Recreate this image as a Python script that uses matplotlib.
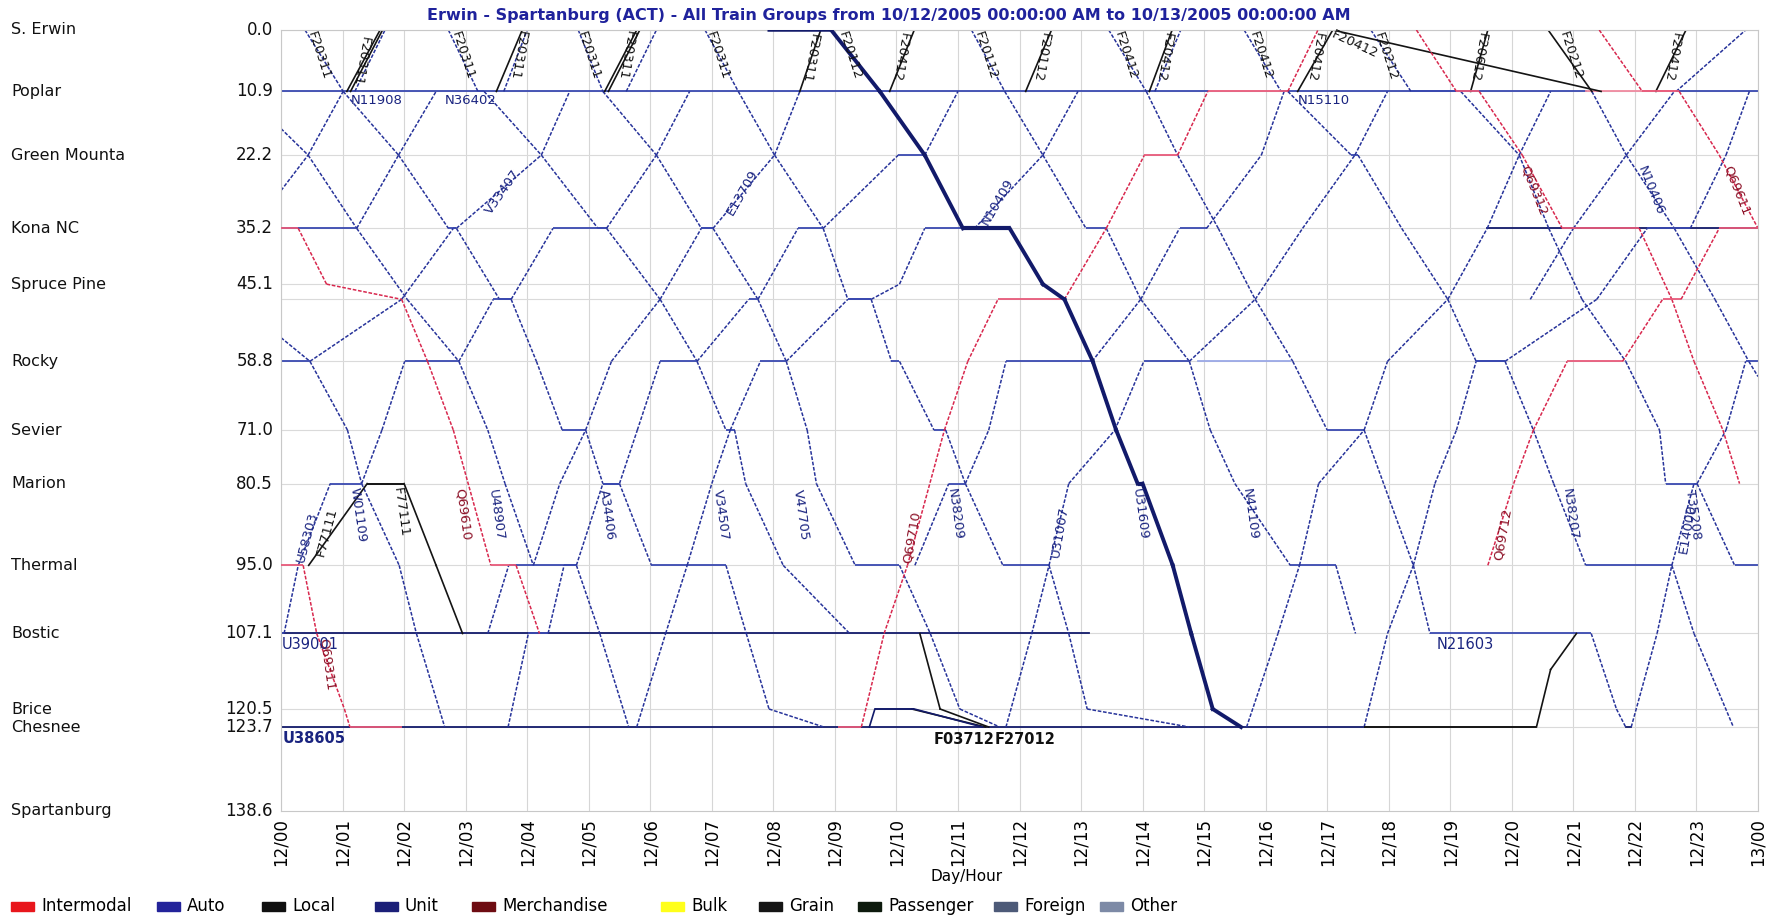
import matplotlib
matplotlib.use("Agg")
import matplotlib.pyplot as plt
from matplotlib.transforms import blended_transform_factory
from matplotlib.patches import Rectangle

# ---- stations / axes data ----
STATIONS = ["S. Erwin", "Poplar", "Green Mounta", "Kona NC", "Spruce Pine", "Rocky", "Sevier",
            "Marion", "Thermal", "Bostic", "Brice", "Chesnee", "Spartanburg"]
MILEPOSTS = [0.0, 10.9, 22.2, 35.2, 45.1, 58.8, 71.0, 80.5, 95.0, 107.1, 120.5, 123.7, 138.6]
CODES = ["SE", "PO", "GM", "KO", "SP", "RO", "SV", "MA", "TH", "BO", "BR", "CH", "SB"]
SIDING_MP = 47.8
HOUR_LABELS = ["12/%02d" % h for h in range(24)] + ["13/00"]

MP = dict(zip(CODES, MILEPOSTS))
MP["SD"] = SIDING_MP

# ---- train paths: (hour, station code or milepost) ----
# southbound auto/unit trains
S0 = [(0, 54.6), (0.47, "RO"), (1.08, "SV"), (1.31, "MA"), (1.92, "TH"), (2.2, "BO"), (2.66, "CH")]
S1 = [(0, 17.5), (0.44, "GM"), (1.23, "KO"), (2.05, "SD"), (2.89, "RO"), (3.36, "SV"), (3.64, "MA"),
      (4.1, "TH"), (4.8, "TH"), (5.18, "BO"), (5.65, "CH")]
S2 = [(0.39, "SE"), (1.01, "PO"), (1.91, "GM"), (2.72, "KO"), (2.85, "KO"), (3.55, "SD"), (3.74, "SD"),
      (4.15, "RO"), (4.57, "SV"), (4.95, "SV"), (5.23, "MA"), (5.5, "MA"), (6.02, "TH"), (7.23, "TH"),
      (7.56, "BO"), (7.93, "BR"), (8.82, "CH")]
S3 = [(1.2, "PO"), (1.69, "SE"), (2.72, "SE"), (3.2, "PO"), (3.3, "PO"), (4.23, "GM"), (5.15, "KO"),
      (5.29, "KO"), (6.16, "SD"), (6.76, "RO"), (7.23, "SV"), (7.37, "SV"), (7.55, "MA"), (8.16, "TH"),
      (9.24, "BO")]
S4 = [(4.83, "SE"), (5.23, "PO"), (6.1, "GM"), (6.83, "KO"), (7.02, "KO"), (7.75, "SD"), (8.21, "RO"),
      (8.55, "SV"), (8.7, "MA"), (9.33, "TH"), (10.05, "TH"), (10.55, "BO"), (11.03, "BR"), (11.68, "CH")]
S5 = [(6.89, "SE"), (7.43, "PO"), (8.02, "GM"), (8.81, "KO"), (9.21, "SD"), (9.59, "SD"), (9.92, "RO"),
      (10.05, "RO"), (10.61, "SV"), (10.8, "SV"), (11.12, "MA"), (11.73, "TH"), (12.48, "TH"),
      (12.8, "BO"), (13.1, "BR"), (14.76, "CH")]
S7 = [(11.22, "SE"), (11.76, "PO"), (12.38, "GM"), (13.08, "KO"), (13.41, "KO"), (13.97, "SD"),
      (14.76, "RO"), (15.1, "SV"), (15.5, "MA"), (16.4, "TH"), (17.14, "TH"), (17.46, "BO")]
S8 = [(13.45, "SE"), (14.06, "PO"), (14.57, "GM"), (15.23, "KO"), (15.83, "SD"), (16.44, "RO"),
      (17.0, "SV"), (17.6, "SV"), (18.4, "TH"), (18.67, "BO"), (21.29, "BO"), (21.7, "BR"), (21.85, "CH")]
S9 = [(15.65, "SE"), (16.25, "PO"), (16.36, "PO"), (17.39, "GM"), (17.5, "GM"), (18.21, "KO"),
      (18.96, "SD"), (19.42, "RO"), (19.89, "RO"), (20.35, "SV"), (20.68, "MA"), (21.2, "TH"),
      (22.6, "TH"), (22.96, "BO"), (23.6, "CH")]
S10 = [(17.71, "SE"), (18.36, "PO"), (19.17, "PO"), (20.12, "GM"), (20.6, "KO"), (21.14, "SD"),
       (21.85, "RO"), (22.4, "SV"), (22.5, "MA"), (23.01, "MA"), (23.62, "TH"), (24.0, "TH")]
S11 = [(21.3, "PO"), (21.86, "GM"), (22.64, "KO"), (23.3, "SD"), (23.85, "RO"), (24.0, 61.5)]

# northbound auto/unit trains
N0 = [(0, 28.5), (0.44, "GM"), (1.01, "PO")]
N1 = [(0, "KO"), (1.23, "KO"), (1.91, "GM"), (2.52, "PO")]
N2 = [(0, "RO"), (0.47, "RO"), (1.96, "SD"), (2.8, "KO"), (2.85, "KO"), (4.23, "GM"), (4.69, "PO")]
N3 = [(0, "BO"), (0.05, "BO"), (0.28, "TH"), (0.8, "MA"), (1.31, "MA"), (1.64, "SV"), (2.01, "RO"),
      (2.89, "RO"), (3.45, "SD"), (3.74, "SD"), (4.42, "KO"), (5.29, "KO"), (6.1, "GM"), (6.64, "PO")]
N4 = [(3.36, "BO"), (3.7, "TH"), (4.1, "TH"), (4.53, "MA"), (4.95, "SV"), (5.37, "RO"), (6.16, "SD"),
      (6.83, "KO"), (7.02, "KO"), (8.02, "GM"), (8.43, "PO")]
N5 = [(3.69, "CH"), (4.02, "BO"), (4.34, "BO"), (4.6, "TH"), (4.8, "TH"), (5.23, "MA"), (5.5, "MA"),
      (5.79, "SV"), (6.16, "RO"), (6.76, "RO"), (7.6, "SD"), (7.75, "SD"), (8.4, "KO"), (8.81, "KO"),
      (10.03, "GM"), (10.46, "GM"), (11.0, "PO")]
N6 = [(5.78, "CH"), (6.25, "BO"), (6.6, "TH"), (7.0, "MA"), (7.3, "SV"), (7.79, "RO"), (8.21, "RO"),
      (9.21, "SD"), (9.59, "SD"), (10.05, "SP"), (10.46, "KO"), (11.27, "KO"), (12.38, "GM"), (12.95, "PO")]
N8 = [(11.78, "CH"), (12.2, "BO"), (12.48, "TH"), (12.8, "MA"), (13.55, "SV"), (14.02, "RO"),
      (14.76, "RO"), (15.83, "SD"), (16.6, "KO"), (17.45, "GM"), (17.98, "PO")]
N9 = [(10.3, "TH"), (10.85, "MA"), (11.12, "MA"), (11.5, "SV"), (11.78, "RO"), (13.18, "RO"),
      (13.97, "SD"), (14.6, "KO"), (15.04, "KO"), (15.93, "GM"), (16.3, "PO")]
N10 = [(15.69, "CH"), (16.2, "BO"), (16.55, "TH"), (16.86, "MA"), (17.6, "SV"), (17.98, "RO"),
       (18.96, "SD"), (19.6, "KO"), (20.12, "GM"), (20.63, "PO")]
N11 = [(17.6, "CH"), (17.98, "BO"), (18.4, "TH"), (18.75, "MA"), (19.1, "SV"), (19.42, "RO"),
       (19.89, "RO"), (21.38, "SD"), (22.2, "KO"), (22.9, "KO"), (23.48, "GM"), (23.86, "PO")]
N13 = [(21.94, "CH"), (22.36, "BO"), (22.6, "TH"), (22.96, "MA"), (23.01, "MA"), (23.48, "SV"),
       (23.8, "RO"), (24.0, "RO")]
N14 = [(20.3, "SD"), (21.0, "KO"), (21.86, "GM"), (22.64, "PO")]

# short S. Erwin - Poplar moves (blue)
TOP_BLUE = [
    [(3.62, "PO"), (4.0, "SE")],
    [(5.61, "PO"), (6.1, "SE")],
    [(14.2, "PO"), (14.62, "SE")],
    [(22.67, "PO"), (23.8, "SE")],
]
# locals (black)
LOCALS = [
    [(1.07, "PO"), (1.61, "SE")],
    [(1.13, "PO"), (1.65, "SE")],
    [(3.5, "PO"), (3.92, "SE"), (4.83, "SE")],
    [(5.26, "PO"), (5.78, "SE"), (6.89, "SE")],
    [(5.32, "PO"), (5.83, "SE")],
    [(8.43, "PO"), (8.77, "SE")],
    [(9.89, "PO"), (10.29, "SE"), (11.22, "SE")],
    [(12.1, "PO"), (12.52, "SE")],
    [(14.11, "PO"), (14.48, "SE"), (15.65, "SE")],
    [(16.52, "PO"), (17.09, "SE"), (21.45, "PO")],
    [(19.33, "PO"), (19.61, "SE"), (20.59, "SE"), (21.3, "PO")],
    [(22.34, "PO"), (22.83, "SE")],
    [(0.45, "TH"), (1.4, "MA"), (2.0, "MA"), (2.52, "TH"), (2.95, "BO")],
    [(10.38, "BO"), (10.71, "BR"), (11.5, "CH")],
    [(10.25, "BR"), (11.45, "CH")],
    [(17.6, "CH"), (20.4, "CH"), (20.63, 113.5), (21.05, "BO")],
]
# merchandise / intermodal (red)
Q69610 = [(0, "KO"), (0.28, "KO"), (0.74, "SP"), (1.96, "SD"), (2.38, "RO"), (2.8, "SV"), (3.41, "TH"),
          (3.82, "TH"), (4.2, "BO")]
Q69311 = [(0, "TH"), (0.36, "TH"), (0.58, "BO"), (1.03, "BR"), (1.12, "CH"), (1.96, "CH")]
Q69710 = [(9.05, "CH"), (9.43, "CH"), (9.8, "BO"), (10.18, "TH"), (10.78, "SV"), (11.16, "RO"),
          (11.65, "SD"), (12.73, "SD"), (13.41, "KO"), (14.03, "GM"), (14.57, "GM"), (15.06, "PO"),
          (16.36, "PO"), (16.85, "SE")]
Q69312 = [(18.45, "SE"), (19.1, "PO"), (19.47, "PO"), (20.17, "GM"), (20.82, "KO"), (22.07, "KO"),
          (22.6, "SD"), (22.96, "RO"), (23.43, "SV"), (23.7, "MA")]
Q69611 = [(21.42, "SE"), (22.12, "PO"), (22.72, "PO"), (23.37, "GM"), (24.0, "KO")]
Q69712 = [(19.61, "TH"), (20.03, "MA"), (20.35, "SV"), (20.9, "RO"), (21.8, "RO"), (22.45, "SD"),
          (22.75, "SD"), (23.37, "KO"), (24.0, "KO")]
# unit train highlighted
U31609_WAIT = [(7.89, "SE"), (8.94, "SE")]
U31609 = [(8.94, "SE"), (9.73, "PO"), (10.46, "GM"), (11.08, "KO"), (11.84, "KO"), (12.38, "SP"),
          (12.73, "SD"), (13.19, "RO"), (13.57, "SV"), (13.92, "MA"), (14.0, "MA"), (14.49, "TH"),
          (14.79, "BO"), (15.14, "BR"), (15.6, "CH")]
U31001 = [(9.56, "CH"), (9.65, "BR"), (10.29, "BR"), (11.4, "CH")]

# station occupancy lines: (station, start hour, end hour, kind)
TRACK = [("PO", 0, 15.06, "blue"), ("PO", 16.36, 21.2, "blue"), ("PO", 21.2, 22.7, "pink"),
         ("PO", 22.7, 24, "blue"), ("BO", 0, 13.13, "navy"), ("CH", 0, 17.6, "navy"),
         ("CH", 21.85, 21.94, "navy"), ("KO", 19.6, 24, "navy"), ("RO", 14.9, 16.4, "light")]

# train-id labels: (text, hour, milepost, rotation, kind)
LABELS = [
    ("F20311", 0.62, 4.5, -72, "k"), ("F20311", 1.3, 5.5, -100, "k"), ("N11908", 1.55, 12.6, 0, "b"),
    ("F20311", 2.95, 4.5, -72, "k"), ("N36402", 3.08, 12.6, 0, "b"), ("F20311", 3.85, 4.5, -100, "k"),
    ("F20311", 5.0, 4.5, -72, "k"), ("F20311", 5.6, 4.5, -100, "k"), ("F20311", 7.1, 4.5, -72, "k"),
    ("F20311", 8.6, 5.0, -100, "k"), ("F20112", 9.25, 4.5, -72, "k"), ("F20412", 10.05, 4.8, -100, "k"),
    ("F20112", 11.45, 4.5, -72, "k"), ("F20112", 12.35, 4.8, -100, "k"), ("F20412", 13.72, 4.5, -72, "k"),
    ("F20412", 14.35, 4.8, -100, "k"), ("F20412", 15.92, 4.5, -72, "k"), ("F20412", 16.8, 4.8, -100, "k"),
    ("F20412", 17.45, 2.5, -25, "k"), ("F20212", 17.95, 4.8, -72, "k"), ("N15110", 16.95, 12.6, 0, "b"),
    ("F20612", 19.45, 4.8, -100, "k"), ("F20212", 20.95, 4.5, -72, "k"), ("F20412", 22.6, 4.8, -100, "k"),
    ("V33407", 3.6, 28.8, 55, "b"), ("E13709", 7.5, 28.8, 60, "b"), ("N10409", 11.65, 30.5, 60, "b"),
    ("Q69312", 20.35, 28.5, -68, "r"), ("N10406", 22.25, 28.5, -68, "b"), ("Q69611", 23.65, 28.5, -68, "r"),
    ("U58303", 0.42, 90.0, 75, "b"), ("F77111", 0.75, 89.0, 75, "k"), ("W01109", 1.25, 86.0, -82, "b"),
    ("F77111", 1.95, 85.5, -82, "k"), ("Q69610", 2.95, 86.0, -82, "r"), ("U48907", 3.5, 86.0, -82, "b"),
    ("A34406", 5.3, 86.0, -82, "b"), ("V34507", 7.15, 86.0, -82, "b"), ("V47705", 8.45, 86.0, -82, "b"),
    ("Q69710", 10.25, 90.0, 80, "r"), ("N38209", 10.95, 86.0, -82, "b"), ("U31007", 12.65, 89.0, 80, "b"),
    ("U31609", 13.95, 86.0, -82, "b"), ("N41109", 15.75, 86.0, -82, "b"), ("Q69712", 19.85, 89.5, 80, "r"),
    ("N38207", 20.95, 86.0, -82, "b"), ("E14000", 22.85, 88.5, 80, "b"), ("T35208", 22.95, 86.0, -82, "b"),
    ("Q69311", 0.75, 112.5, -82, "r"),
]
STATION_LABELS = [("U39001", 0.0, 109.0, "b"), ("U38605", 0.0, 125.8, "bb"), ("N21603", 18.75, 109.0, "b"),
                  ("F03712", 10.58, 125.9, "kb"), ("F27012", 11.58, 125.9, "kb")]

LEGEND_NAMES = ["Intermodal", "Auto", "Local", "Unit", "Merchandise", "Bulk", "Grain", "Passenger",
                "Foreign", "Other"]
LEGEND_COLORS = ["#e8161c", "#23239a", "#101010", "#1b1f78", "#6e0c12", "#ffff1a", "#151515",
                 "#0d1a0d", "#4d5a78", "#7d8aa6"]
LEGEND_X = [11, 157, 262, 375, 472, 661, 759, 858, 994, 1100]

BLUE = "#27339a"
BLUE_H = "#3a49b0"
RED = "#d8284e"
BLACK = "#141414"
NAVY = "#121a6a"
DASH = (0, (2.4, 1.1))


def mp(v):
    return MP[v] if isinstance(v, str) else v


fig = plt.figure(figsize=(17.82, 9.19), dpi=100)
ax = fig.add_axes([0.15769, 0.11752, 0.82884, 0.84984])
ax.set_xlim(0, 24)
ax.set_ylim(138.6, 0)

for h in range(25):
    ax.axvline(h, color="#d6d6d6", lw=0.8, zorder=0)
for m in MILEPOSTS[:-1] + [SIDING_MP]:
    ax.axhline(m, color="#dadada", lw=0.8, zorder=0)


def draw(points, color, lw=1.1, dashed=True, hcolor=None, z=2):
    pts = [(h, mp(v)) for h, v in points]
    for (h1, m1), (h2, m2) in zip(pts, pts[1:]):
        if m1 == m2:
            ax.plot([h1, h2], [m1, m2], color=hcolor or color, lw=lw + 0.2, zorder=z,
                    solid_capstyle="butt")
        else:
            ax.plot([h1, h2], [m1, m2], color=color, lw=lw, zorder=z,
                    ls=DASH if dashed else "-")


track_colors = {"blue": BLUE_H, "navy": NAVY, "pink": "#f08aa0", "light": "#9aa8e6"}
for st, a, b, kind in TRACK:
    ax.plot([a, b], [MP[st], MP[st]], color=track_colors[kind], lw=1.3, zorder=1)

for tr in [S0, S1, S2, S3, S4, S5, S7, S8, S9, S10, S11,
           N0, N1, N2, N3, N4, N5, N6, N8, N9, N10, N11, N13, N14] + TOP_BLUE:
    draw(tr, BLUE, hcolor=BLUE_H)
for tr in LOCALS:
    draw(tr, BLACK, lw=1.2, dashed=False)
for tr in [Q69610, Q69311, Q69710, Q69312, Q69611, Q69712]:
    draw(tr, RED, hcolor="#e85a7a", z=3)
draw(U31001, NAVY, lw=1.2, dashed=False)
draw(U31609_WAIT, NAVY, lw=1.6, dashed=False, z=4)
draw(U31609, NAVY, lw=2.8, dashed=False, z=5)

label_colors = {"k": "#111111", "b": "#1a2480", "r": "#8c1026"}
for txt, h, m, rot, kind in LABELS:
    ax.text(h, m, txt, rotation=rot, color=label_colors[kind], fontsize=9.5, ha="center", va="center",
            rotation_mode="anchor", zorder=6)
for txt, h, m, kind in STATION_LABELS:
    ax.text(h + 0.02, m, txt, color="#111111" if kind.startswith("k") else "#1a2480",
            fontsize=10.5, fontweight="bold" if kind.endswith("b") and len(kind) > 1 else "normal",
            ha="left", va="center", zorder=6)

ax.set_yticks([])
ax.set_xticks(range(25))
ax.set_xticklabels(HOUR_LABELS, rotation=90, fontsize=12)
ax.tick_params(axis="x", length=0, pad=5)
for s in ax.spines.values():
    s.set_color("#c8c8c8")
    s.set_linewidth(0.8)

tr = blended_transform_factory(fig.transFigure, ax.transData)
for name, m in zip(STATIONS, MILEPOSTS):
    ax.text(11 / 1782, m, name, transform=tr, fontsize=11.5, ha="left", va="center", color="#111111")
    ax.text(273 / 1782, m, "%.1f" % m, transform=tr, fontsize=12, ha="right", va="center",
            color="#111111")

fig.text(0.499, 0.983, "Erwin - Spartanburg (ACT) - All Train Groups from 10/12/2005 00:00:00 AM "
         "to 10/13/2005 00:00:00 AM", ha="center", va="center", fontsize=11.5, fontweight="bold",
         color="#1f229c")
fig.text(967 / 1782, 1 - 877 / 919, "Day/Hour", ha="center", va="center", fontsize=11)

for name, col, x in zip(LEGEND_NAMES, LEGEND_COLORS, LEGEND_X):
    fig.patches.append(Rectangle((x / 1782, 1 - 911 / 919), 23 / 1782, 9 / 919,
                                 transform=fig.transFigure, color=col))
    fig.text((x + 30) / 1782, 1 - 906 / 919, name, ha="left", va="center", fontsize=12)

fig.savefig("out.png", dpi=100)
